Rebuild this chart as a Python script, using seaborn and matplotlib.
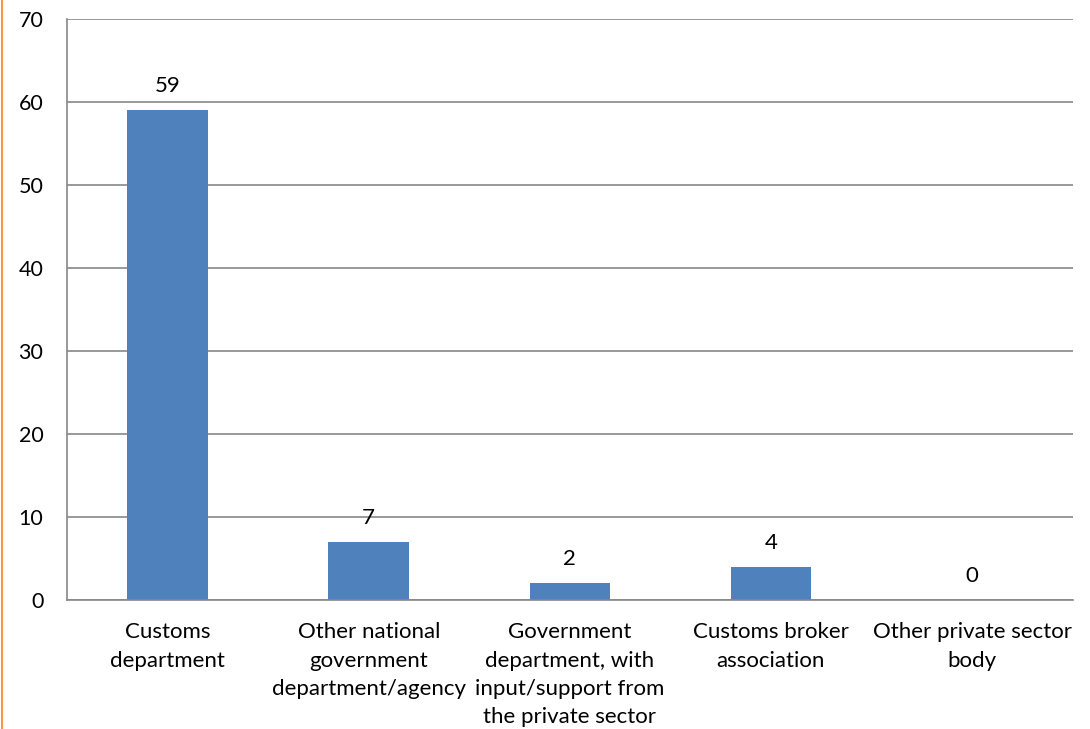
import matplotlib
matplotlib.use("Agg")
import matplotlib.pyplot as plt
import seaborn as sns
import pandas as pd
from matplotlib.lines import Line2D

categories = [
    "Customs\ndepartment",
    "Other national\ngovernment\ndepartment/agency",
    "Government\ndepartment, with\ninput/support from\nthe private sector",
    "Customs broker\nassociation",
    "Other private sector\nbody",
]
counts = [59, 7, 2, 4, 0]
yticks = [0, 10, 20, 30, 40, 50, 60, 70]

df = pd.DataFrame({"category": categories, "count": counts})

sns.set_theme(style="white")
plt.rcParams["font.family"] = ["Lato", "DejaVu Sans"]

fig = plt.figure(figsize=(10.9, 7.29), dpi=100)
ax = fig.add_axes([0.0615, 0.177, 0.9225, 0.797])

sns.barplot(data=df, x="category", y="count", color="#4F81BD", width=0.4,
            saturation=1, linewidth=0, ax=ax)

ax.set_ylim(0, 70)
ax.set_yticks(yticks)
ax.set_xlim(-0.5, len(categories) - 0.5)
ax.yaxis.grid(True, color="#878787", linewidth=1.2)
ax.set_axisbelow(True)
for s in ["top", "right"]:
    ax.spines[s].set_visible(False)
for s in ["left", "bottom"]:
    ax.spines[s].set_color("#878787")
    ax.spines[s].set_linewidth(1.2)

ax.tick_params(axis="y", length=0, pad=17, labelsize=15.5, labelcolor="black")
ax.tick_params(axis="x", length=0, pad=16, labelsize=16, labelcolor="black")
for lbl in ax.get_xticklabels():
    lbl.set_linespacing(1.52)
ax.set_xlabel("")
ax.set_ylabel("")

for i, v in enumerate(counts):
    ax.annotate(str(v), (i, v), xytext=(0, 10), textcoords="offset points",
                ha="center", va="bottom", fontsize=16, color="black")

fig.add_artist(Line2D([0.0015, 0.0015], [0, 1], color="#F79646", linewidth=1.5,
                      transform=fig.transFigure))

fig.savefig("out.png", dpi=100, facecolor="white")
